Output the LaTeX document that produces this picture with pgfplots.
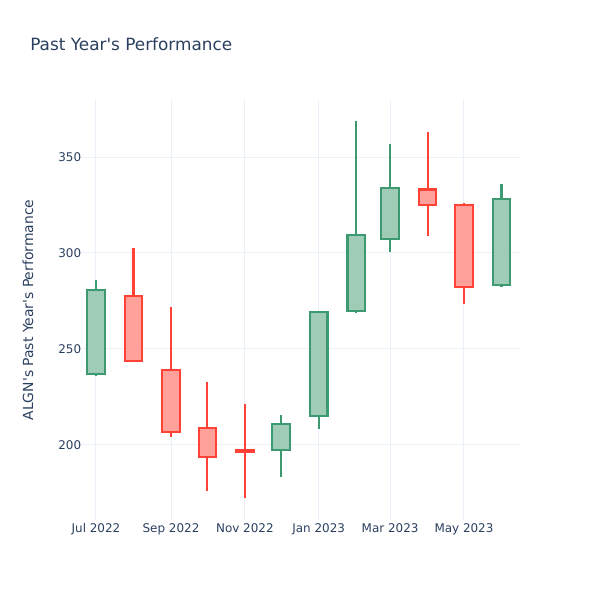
\documentclass[border=0pt]{standalone}
\usepackage{fontspec}
\setmainfont{DejaVu Sans}[Ligatures=TeXOff]
\usepackage{pgfplots}
\pgfplotsset{compat=1.18}
\usepgfplotslibrary{statistics}
\definecolor{incr}{HTML}{3D9970}
\definecolor{decr}{HTML}{FF4136}
\definecolor{gridc}{HTML}{EBF0F8}
\definecolor{txt}{HTML}{2A3F5F}
\pgfplotsset{
  up/.style={draw=incr, fill=incr!50, line width=1.5pt},
  down/.style={draw=decr, fill=decr!50, line width=1.5pt},
}
% style, day (from 1 Jul 2022), low, body low, body high, high
\newcommand{\candle}[6]{%
  \addplot[#1, boxplot prepared={draw position=#2, lower whisker=#3,
    lower quartile=#4, median=#4, upper quartile=#5, upper whisker=#6,
    box extend=14.5, whisker extend=0}] coordinates {};}

\begin{document}
\begin{tikzpicture}
\path[use as bounding box] (-2cm,-2cm) rectangle (13cm,13cm);
\begin{axis}[
    scale only axis,
    width=11cm, height=10.5cm,
    xmin=-13.2, xmax=350.3,
    ymin=160.9, ymax=379.7,
    boxplot/draw direction=y,
    boxplot/every whisker/.append style={line width=1.5pt},
    xtick={0,62,123,184,243,304},
    xticklabels={Jul 2022, Sep 2022, Nov 2022, Jan 2023, Mar 2023, May 2023},
    ytick={200,250,300,350},
    grid=major,
    major grid style={draw=gridc, line width=0.7pt},
    axis line style={draw=none},
    major tick length=0pt,
    tick style={draw=none},
    /pgf/number format/assume math mode=true,
    ticklabel style={font=\fontsize{8.5}{10}\selectfont, text=txt},
    yticklabel style={anchor=east, inner sep=0pt, xshift=1pt},
    xticklabel style={anchor=north, inner sep=0pt, yshift=-2.5pt},
]
\candle{up}{0}{236}{236.8}{280.7}{286}
\candle{down}{31}{243.5}{243.8}{277.8}{302.8}
\candle{down}{62}{204.3}{206.9}{239}{271.7}
\candle{down}{92}{176}{193.9}{209}{233}
\candle{down}{123}{172.2}{196.5}{197.5}{221.2}
\candle{up}{153}{183.2}{197.4}{210.8}{215.6}
\candle{up}{184}{208.1}{215.3}{269.4}{269.5}
\candle{up}{215}{268.9}{270}{309.4}{368.7}
\candle{up}{243}{300.7}{307.3}{334}{356.9}
\candle{down}{274}{309}{325.2}{333.1}{363.2}
\candle{down}{304}{273.4}{282.5}{325}{326.2}
\candle{up}{335}{282.1}{283.3}{328}{335.8}
\end{axis}
\node[anchor=west, inner sep=0pt, text=txt, font=\fontsize{12}{14}\selectfont] at (-1.25cm,11.9cm) {Past Year's Performance};
\node[rotate=90, inner sep=0pt, text=txt, font=\fontsize{9.9}{12}\selectfont] at (-1.3cm,5.25cm) {ALGN's Past Year's Performance};
\end{tikzpicture}
\end{document}
